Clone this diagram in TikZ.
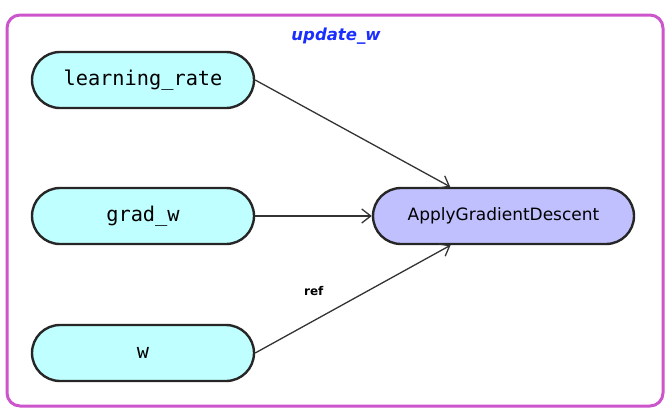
\documentclass[tikz,border=0pt]{standalone}
\usepackage{fontspec}
\setmainfont{DejaVu Sans}
\newfontfamily\monof{DejaVu Sans Mono}
\usetikzlibrary{shapes.misc,arrows.meta}
\definecolor{framec}{HTML}{CC55CC}
\definecolor{titlec}{HTML}{1A2EFF}
\definecolor{inputc}{HTML}{C0FFFF}
\definecolor{opc}{HTML}{C0C0FF}
\definecolor{edgec}{HTML}{333333}
\begin{document}
\begin{tikzpicture}[x=1pt,y=-1pt,
  inbox/.style={rounded rectangle, draw=black!85, line width=2.4pt, fill=inputc,
    minimum width=222pt, minimum height=56pt, inner sep=0pt,
    font=\monof\fontsize{20.3}{24}\selectfont},
  opbox/.style={rounded rectangle, draw=black!85, line width=2.4pt, fill=opc,
    minimum width=261pt, minimum height=56pt, inner sep=0pt,
    font=\fontsize{17}{20}\selectfont},
  flow/.style={draw=edgec, line width=1.3pt, -{Straight Barb[length=9pt,width=14pt,line width=1.3pt]}},
  lbl/.style={font=\bfseries\fontsize{12}{14}\selectfont}]
\useasboundingbox (0,0) rectangle (672,418);
\node[draw=framec, line width=3pt, rounded corners=13pt, minimum width=656pt,
  minimum height=391pt, inner sep=0pt] (frame) at (335,210.5) {};
\node[text=titlec, font=\bfseries\itshape\fontsize{16.5}{19}\selectfont] (title) at (336,36) {update\_w};
\node[inbox] (lr) at (143,80) {learning\_rate};
\node[inbox] (gw) at (143,216) {grad\_w};
\node[inbox] (w) at (143,353) {w};
\node[opbox] (agd) at (503.5,216) {ApplyGradientDescent};
\draw[flow] (lr.east) -- (agd);
\draw[flow] (gw.east) -- (agd.west);
\draw[flow] (w.east) -- node[lbl, pos=0.3, above=21pt] (ref) {ref} (agd);
\end{tikzpicture}
\end{document}
